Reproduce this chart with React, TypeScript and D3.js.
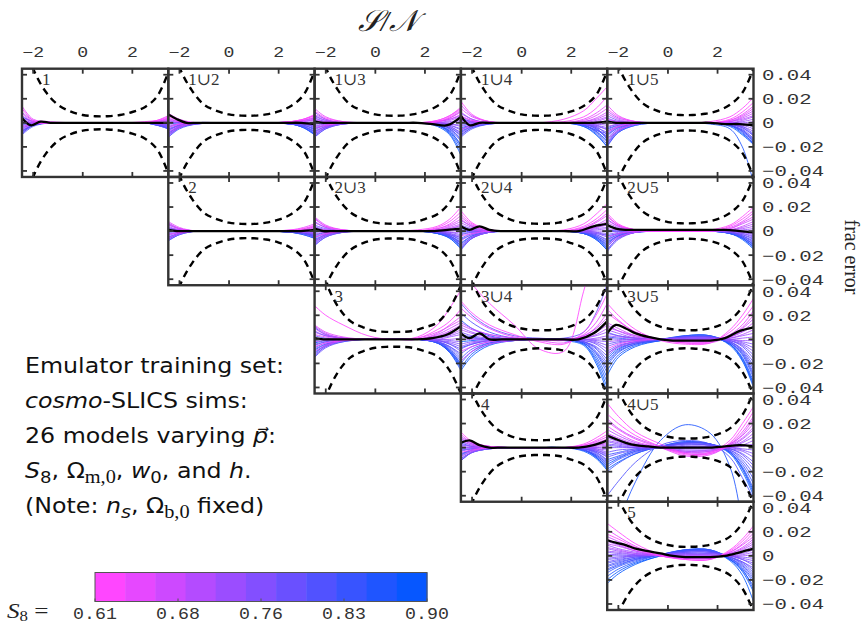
import React from "react";
import * as d3 from "d3";

// ---------- data ----------
// S8 of the 26 cosmo-SLICS training models (line colour)
const MODEL_S8 = [
  0.61, 0.62, 0.64, 0.65, 0.67, 0.68, 0.69, 0.71, 0.72, 0.73, 0.74, 0.75, 0.76,
  0.76, 0.77, 0.78, 0.79, 0.8, 0.81, 0.82, 0.83, 0.84, 0.85, 0.87, 0.88, 0.9,
];

// S/N sample points of the model curves, the mean curve and the noise band
const X_MODEL = [-2.45, -2.0, -1.3, -0.3, 0.7, 1.7, 2.5, 3.0, 3.45];
const X_MEAN = [-2.45, -2.1, -1.7, -1.3, -0.8, -0.3, 0.2, 0.7, 1.2, 1.7, 2.3, 2.9, 3.45];
const X_BAND = [-2.45, -2, -1.5, -1, -0.5, 0, 0.5, 1, 1.5, 2, 2.5, 3, 3.45];

// frac error x 1000, one row per model (S8 order)
const LINES_1 = [
  [12,2,0,0,0,0,0,2,5],[-3,-1,0,0,0,0,1,2,4],[8,1,0,0,0,0,0,1,3],[14,3,1,0,0,0,0,2,6],
  [2,0,0,0,0,0,0,0,2],[-6,-1,0,0,0,0,0,1,3],[9,2,0,0,0,0,0,0,1],[4,1,0,0,0,0,0,1,4],
  [-1,0,0,0,0,0,0,0,-1],[6,1,0,0,0,0,0,-1,-2],[0,0,0,0,0,0,0,0,1],[-9,-2,0,0,0,0,0,0,-1],
  [3,0,0,0,0,0,0,-1,-3],[-4,-1,0,0,0,0,0,1,2],[-7,-2,0,0,0,0,0,-1,-4],[1,0,0,0,0,0,0,-1,-2],
  [-5,-1,0,0,0,0,0,-2,-5],[-10,-3,0,0,0,0,0,0,-1],[-2,0,0,0,0,0,0,-1,-3],[-8,-2,0,0,0,0,0,-2,-4],
  [5,1,0,0,0,0,0,-1,-2],[-6,-2,0,0,0,0,0,-2,-5],[-3,-1,0,0,0,0,0,0,-2],[-9,-2,0,0,0,0,0,-1,-3],
  [-1,0,0,0,0,0,0,-2,-4],[-7,-2,0,0,0,0,0,-1,-5],
];
const LINES_1U2 = [
  [5,2,0,0,0,0,1,3,7],[-4,-1,0,0,0,0,1,3,6],[8,3,0,0,0,0,1,2,5],[2,1,0,0,0,0,1,3,6],
  [-8,-3,0,0,0,0,0,2,4],[4,1,0,0,0,0,0,1,3],[-2,-1,0,0,0,0,1,2,4],[-10,-4,0,0,0,0,0,1,2],
  [1,0,0,0,0,0,0,0,1],[-6,-2,0,0,0,0,0,1,3],[3,1,0,0,0,0,0,-1,-1],[-12,-4,-1,0,0,0,0,0,0],
  [-3,-1,0,0,0,0,0,-1,-3],[-9,-3,0,0,0,0,0,-1,-2],[0,0,0,0,0,0,-1,-2,-5],[-7,-2,0,0,0,0,0,-1,-4],
  [-11,-4,-1,0,0,0,-1,-3,-7],[-5,-2,0,0,0,0,0,-1,-3],[2,0,0,0,0,0,-1,-3,-8],[-8,-3,0,0,0,0,-1,-2,-6],
  [-12,-5,-1,0,0,0,-1,-3,-9],[-4,-1,0,0,0,0,-1,-4,-10],[-10,-4,0,0,0,0,-1,-2,-5],[-6,-2,0,0,0,0,-1,-4,-9],
  [-1,0,0,0,0,0,-1,-3,-7],[-9,-3,0,0,0,0,-1,-4,-10],
];
const LINES_1U3 = [
  [10,4,1,0,0,0,2,6,13],[-4,-2,0,0,0,0,1,5,11],[12,5,1,0,0,0,1,4,9],[3,1,0,0,0,0,2,6,12],
  [-8,-3,0,0,0,0,1,3,7],[7,3,0,0,0,0,1,4,10],[-2,-1,0,0,0,0,0,2,5],[5,2,0,0,0,0,1,3,6],
  [-10,-4,-1,0,0,0,0,1,2],[1,0,0,0,0,0,0,0,1],[-6,-2,0,0,0,0,0,-1,-3],[9,3,0,0,0,0,0,-1,-2],
  [-12,-5,-1,0,0,0,-1,-2,-6],[0,0,0,0,0,0,-1,-3,-9],[-3,-1,0,0,0,0,0,-2,-5],[6,2,0,0,0,0,-1,-4,-11],
  [-9,-4,0,0,0,0,-1,-3,-8],[-5,-2,0,0,0,0,-1,-5,-13],[2,1,0,0,0,0,-2,-6,-15],[-11,-4,-1,0,0,0,-1,-4,-10],
  [-7,-3,0,0,0,0,-2,-7,-18],[4,1,0,0,0,0,-1,-5,-14],[-12,-5,-1,0,0,0,-2,-8,-21],[-1,0,0,0,0,0,-2,-9,-24],
  [-8,-3,0,0,0,0,-3,-10,-27],[-4,-2,0,0,0,0,-2,-7,-19],
];
const LINES_1U4 = [
  [18,7,1,0,0,3,10,20,30],[6,2,0,0,0,1,5,12,22],[-6,-2,0,0,0,0,3,8,15],[12,5,1,0,0,0,2,6,12],
  [2,1,0,0,0,0,1,4,9],[15,6,1,0,0,0,1,3,7],[-3,-1,0,0,0,0,0,2,5],[9,3,0,0,0,0,0,1,4],
  [0,0,0,0,0,0,0,0,2],[-9,-3,0,0,0,0,0,-1,0],[5,2,0,0,0,0,0,-1,-2],[-1,0,0,0,0,0,-1,-2,-4],
  [8,3,0,0,0,0,0,-2,-6],[-5,-2,0,0,0,0,-1,-3,-5],[3,1,0,0,0,0,-1,-4,-8],[-11,-4,-1,0,0,0,-1,-3,-10],
  [1,0,0,0,0,0,-1,-5,-12],[-7,-3,0,0,0,0,-2,-6,-9],[4,1,0,0,0,0,-1,-4,-14],[-12,-5,-1,0,0,0,-2,-7,-16],
  [-2,-1,0,0,0,0,-2,-6,-11],[-8,-3,0,0,0,0,-2,-8,-18],[2,1,0,0,0,0,-1,-5,-13],[-10,-4,-1,0,0,0,-3,-9,-20],
  [-4,-2,0,0,0,0,-2,-7,-15],[-6,-2,0,0,0,0,-3,-10,-20],
];
const LINES_1U5 = [
  [12,5,1,0,0,1,5,12,21],[-8,-3,0,0,0,0,3,9,17],[15,6,1,0,0,0,2,7,14],[3,1,0,0,0,0,2,6,12],
  [-14,-6,-1,0,0,0,1,5,10],[8,3,0,0,0,0,1,4,8],[-3,-1,0,0,0,0,1,3,6],[10,4,1,0,0,0,0,2,5],
  [-18,-7,-1,0,0,0,0,1,3],[1,0,0,0,0,0,0,0,1],[-6,-2,0,0,0,0,0,-1,-1],[6,2,0,0,0,0,0,-1,-3],
  [-11,-4,-1,0,0,0,-1,-2,-5],[-1,0,0,0,0,0,-1,-3,-7],[-16,-6,-1,0,0,0,-1,-3,-9],[4,1,0,0,0,0,-1,-4,-11],
  [-9,-3,0,0,0,0,-1,-5,-13],[-20,-8,-2,0,0,0,-2,-6,-15],[-4,-1,0,0,0,0,-1,-4,-10],[-13,-5,-1,0,0,0,-2,-7,-16],
  [2,1,0,0,0,0,-2,-6,-14],[-7,-3,0,0,0,0,-2,-8,-18],[-17,-7,-1,0,0,0,-2,-7,-16],[-10,-4,-1,0,0,-1,-5,-20,-50],
  [-19,-8,-2,0,0,0,-2,-9,-17],[-5,-2,0,0,0,0,-3,-10,-18],
];
const LINES_2 = [
  [6,2,0,0,0,0,1,2,5],[-3,-1,0,0,0,0,0,2,4],[8,3,0,0,0,0,1,3,6],[1,0,0,0,0,0,0,1,3],
  [-6,-2,0,0,0,0,0,1,2],[4,1,0,0,0,0,0,1,4],[-1,0,0,0,0,0,0,0,1],[7,2,0,0,0,0,0,0,2],
  [-4,-1,0,0,0,0,0,-1,-1],[2,1,0,0,0,0,0,0,0],[-7,-2,0,0,0,0,0,-1,-2],[5,2,0,0,0,0,0,-1,-3],
  [0,0,0,0,0,0,0,0,-1],[-5,-2,0,0,0,0,0,-1,-2],[3,1,0,0,0,0,0,-2,-4],[-8,-3,0,0,0,0,0,-1,-3],
  [-2,-1,0,0,0,0,-1,-2,-5],[6,2,0,0,0,0,0,-1,-2],[-6,-2,0,0,0,0,-1,-2,-4],[1,0,0,0,0,0,0,-2,-5],
  [-3,-1,0,0,0,0,-1,-3,-6],[-8,-3,0,0,0,0,-1,-2,-3],[2,1,0,0,0,0,0,-1,-4],[-5,-2,0,0,0,0,-1,-2,-5],
  [-1,0,0,0,0,0,-1,-3,-6],[-7,-2,0,0,0,0,-1,-2,-4],
];
const LINES_2U3 = [
  [10,4,1,0,0,1,4,10,20],[-5,-2,0,0,0,0,3,8,16],[12,5,1,0,0,0,2,6,13],[2,1,0,0,0,0,2,5,10],
  [-9,-3,0,0,0,0,1,4,8],[7,3,0,0,0,0,1,3,6],[-2,-1,0,0,0,0,1,2,5],[11,4,1,0,0,0,0,2,4],
  [-11,-4,-1,0,0,0,0,1,2],[4,1,0,0,0,0,0,0,1],[-6,-2,0,0,0,0,0,-1,-1],[0,0,0,0,0,0,0,-1,-3],
  [8,3,0,0,0,0,0,-2,-4],[-12,-5,-1,0,0,0,-1,-2,-6],[-3,-1,0,0,0,0,-1,-3,-5],[5,2,0,0,0,0,-1,-3,-8],
  [-8,-3,0,0,0,0,-1,-4,-10],[1,0,0,0,0,0,-1,-3,-7],[-10,-4,-1,0,0,0,-1,-4,-11],[-4,-1,0,0,0,0,-1,-5,-12],
  [3,1,0,0,0,0,-1,-4,-9],[-7,-3,0,0,0,0,-2,-5,-13],[-12,-5,-1,0,0,0,-1,-4,-10],[-1,0,0,0,0,0,-2,-6,-15],
  [-9,-3,0,0,0,0,-2,-6,-14],[-5,-2,0,0,0,0,-2,-5,-12],
];
const LINES_2U4 = [
  [14,6,1,0,0,1,6,14,23],[17,7,1,0,0,0,4,10,18],[-4,-2,0,0,0,0,3,8,15],[10,4,1,0,0,0,2,7,13],
  [3,1,0,0,0,0,2,5,10],[12,5,1,0,0,0,1,4,8],[-8,-3,0,0,0,0,1,3,6],[7,3,0,0,0,0,1,3,5],
  [0,0,0,0,0,0,0,2,3],[9,4,0,0,0,0,0,1,2],[-12,-5,-1,0,0,0,0,0,0],[5,2,0,0,0,0,0,-1,-2],
  [-2,-1,0,0,0,0,0,-1,-4],[-14,-6,-1,0,0,0,-1,-2,-5],[1,0,0,0,0,0,0,-2,-3],[-6,-2,0,0,0,0,-1,-3,-7],
  [-16,-6,-1,0,0,0,-1,-3,-8],[4,1,0,0,0,0,-1,-4,-10],[-10,-4,-1,0,0,0,-1,-4,-9],[-3,-1,0,0,0,0,-1,-5,-12],
  [-13,-5,-1,0,0,0,-2,-5,-11],[2,1,0,0,0,0,-2,-6,-14],[-7,-3,0,0,0,0,-1,-5,-13],[-15,-6,-1,0,0,0,-2,-7,-16],
  [-1,0,0,0,0,0,-2,-6,-15],[-11,-4,-1,0,0,0,-2,-7,-16],
];
const LINES_2U5 = [
  [12,5,1,0,0,1,5,12,20],[15,6,1,0,0,0,4,10,17],[-5,-2,0,0,0,0,3,8,15],[9,4,1,0,0,0,2,7,12],
  [-12,-5,-1,0,0,0,2,6,10],[13,5,1,0,0,0,1,4,8],[2,1,0,0,0,0,1,3,6],[7,3,0,0,0,0,1,2,4],
  [-8,-3,0,0,0,0,0,1,2],[4,2,0,0,0,0,0,0,0],[-15,-6,-1,0,0,0,0,-1,-2],[0,0,0,0,0,0,0,-1,-3],
  [-3,-1,0,0,0,0,0,-2,-5],[10,4,1,0,0,0,-1,-2,-4],[-10,-4,-1,0,0,0,-1,-3,-7],[-1,0,0,0,0,0,-1,-3,-6],
  [-17,-7,-1,0,0,0,-1,-4,-9],[5,2,0,0,0,0,-1,-4,-8],[-6,-2,0,0,0,0,-1,-5,-11],[-13,-5,-1,0,0,0,-1,-4,-10],
  [1,0,0,0,0,0,-2,-5,-12],[-9,-4,-1,0,0,0,-2,-6,-13],[-16,-6,-1,0,0,0,-1,-5,-11],[-4,-2,0,0,0,0,-2,-6,-14],
  [-11,-4,-1,0,0,0,-2,-7,-15],[-7,-3,0,0,0,0,-2,-6,-13],
];
const LINES_3 = [
  [28,20,12,3,0,2,12,26,41],[-6,-3,-1,0,0,1,8,15,25],[12,6,2,0,0,0,5,12,19],[4,2,0,0,0,1,6,11,16],
  [-10,-5,-1,0,0,0,4,9,14],[9,4,1,0,0,0,3,7,12],[-2,-1,0,0,0,0,2,6,10],[11,5,1,0,0,0,2,4,8],
  [-13,-6,-1,0,0,0,1,3,6],[6,3,1,0,0,0,0,2,4],[1,0,0,0,0,0,0,0,1],[-8,-4,-1,0,0,0,0,-1,-2],
  [7,3,1,0,0,0,-1,-2,-4],[-4,-2,0,0,0,0,-1,-3,-6],[-15,-7,-2,0,0,0,-1,-4,-8],[3,1,0,0,0,0,-1,-4,-10],
  [-11,-5,-1,0,0,0,-2,-6,-12],[-1,0,0,0,0,0,-2,-6,-14],[-7,-3,-1,0,0,0,-2,-7,-16],[10,4,1,0,0,0,-2,-8,-18],
  [-14,-6,-2,0,0,0,-3,-9,-20],[-5,-2,0,0,0,0,-3,-10,-22],[-12,-5,-1,0,0,0,-3,-11,-24],[0,0,0,0,0,0,-3,-11,-26],
  [-9,-4,-1,0,0,0,-2,-9,-21],[-3,-1,0,0,0,0,-3,-10,-23],
];
const LINES_3U4 = [
  [60,46,30,12,-8,-10,40,80,120],[32,22,12,4,-2,-4,6,20,38],[-10,-6,-2,0,-1,-3,4,14,30],[26,18,9,2,0,-1,3,10,22],
  [12,8,4,1,0,0,3,9,18],[-18,-10,-4,-1,0,-1,2,7,14],[8,5,2,0,0,0,2,6,12],[14,9,4,1,0,0,1,4,9],
  [-6,-3,-1,0,0,0,1,3,6],[10,6,2,0,0,0,0,1,3],[0,0,0,0,0,0,0,0,1],[6,3,1,0,0,0,0,-1,-2],
  [-4,-2,-1,0,0,0,0,-2,-5],[2,1,0,0,0,0,-1,-3,-8],[-8,-4,-1,0,0,0,-1,-4,-11],[30,20,10,3,1,1,6,22,46],
  [-12,-6,-2,0,0,0,-2,-6,-14],[4,2,0,0,0,0,-2,-7,-17],[-16,-8,-3,-1,0,0,-2,-8,-20],[22,14,6,1,0,0,-2,-10,-22],
  [-20,-10,-3,-1,0,0,-3,-11,-25],[-7,-4,-1,0,0,0,-3,-12,-28],[-24,-12,-4,-1,0,0,-3,-14,-32],[16,9,3,0,0,0,-4,-16,-36],
  [-26,-14,-5,-1,0,0,-4,-18,-40],[-2,-1,0,0,0,-1,-5,-20,-44],
];
const LINES_3U5 = [
  [30,20,8,-1,-4,-3,8,20,34],[22,15,6,0,-3,-2,6,16,28],[-8,-4,-1,0,-2,-2,4,12,24],[25,16,6,0,-3,-3,3,10,20],
  [10,7,3,0,-2,-1,3,9,17],[14,9,3,0,-1,-1,2,7,14],[-12,-6,-2,0,-1,0,2,6,11],[12,7,2,0,0,0,1,4,8],
  [3,2,1,0,0,0,1,3,5],[8,5,1,0,0,0,0,1,2],[-2,-1,0,0,1,1,0,-1,-1],[5,3,1,0,0,1,0,-2,-4],
  [-6,-3,-1,0,1,1,0,-3,-7],[1,0,0,0,1,1,-1,-4,-10],[-10,-5,-2,0,1,1,-1,-5,-13],[-4,-2,-1,0,2,2,-1,-6,-16],
  [-14,-7,-3,0,2,2,-2,-8,-19],[6,3,1,0,1,1,-2,-9,-22],[-18,-9,-3,0,2,2,-2,-10,-25],[-12,-6,-2,0,2,2,-3,-11,-28],
  [-22,-11,-4,-1,2,2,-3,-12,-30],[2,1,0,0,3,3,-3,-13,-32],[-26,-13,-5,-1,2,2,-4,-15,-35],[-20,-10,-4,0,3,3,-4,-16,-37],
  [-30,-15,-6,-1,2,2,-4,-17,-38],[-16,-8,-3,-1,3,3,-5,-18,-40],
];
const LINES_4 = [
  [13,5,1,0,0,0,3,8,14],[-4,-2,0,0,0,0,2,6,11],[8,3,1,0,0,0,2,5,9],[11,4,1,0,0,0,1,4,7],
  [-8,-3,0,0,0,0,1,3,6],[6,2,0,0,0,0,1,2,4],[1,0,0,0,0,0,0,2,3],[9,4,1,0,0,0,0,1,2],
  [-10,-4,-1,0,0,0,0,0,1],[3,1,0,0,0,0,0,0,-1],[-2,-1,0,0,0,0,0,-1,-2],[5,2,0,0,0,0,0,-1,-4],
  [-6,-2,0,0,0,0,-1,-2,-5],[0,0,0,0,0,0,0,-2,-6],[-11,-4,-1,0,0,0,-1,-3,-8],[2,1,0,0,0,0,-1,-3,-7],
  [-3,-1,0,0,0,0,-1,-4,-10],[7,3,0,0,0,0,-1,-4,-11],[-7,-3,0,0,0,0,-1,-5,-12],[-1,0,0,0,0,0,-2,-6,-14],
  [-9,-4,-1,0,0,0,-2,-6,-13],[4,1,0,0,0,0,-2,-7,-16],[-5,-2,0,0,0,0,-2,-8,-17],[-11,-4,-1,0,0,0,-2,-7,-15],
  [-2,-1,0,0,0,0,-3,-9,-19],[-6,-2,0,0,0,0,-2,-8,-18],
];
const LINES_4U5 = [
  [37,26,13,3,-5,-4,6,20,34],[28,20,10,1,-6,-5,4,16,30],[22,15,7,0,-7,-6,3,13,26],[18,12,5,0,-5,-5,2,11,24],
  [24,16,8,1,-4,-4,3,10,20],[12,8,3,0,-4,-3,2,8,17],[15,10,4,0,-3,-3,1,7,15],[9,6,2,0,-3,-2,1,5,12],
  [11,7,2,0,-2,-2,0,4,9],[6,4,1,0,-1,-1,0,2,6],[8,5,1,0,0,0,0,1,3],[3,2,0,0,0,0,0,-1,-2],
  [5,3,1,0,1,1,0,-2,-5],[0,0,0,0,1,1,-1,-3,-8],[-4,-2,-1,0,2,2,-1,-5,-12],[2,1,0,1,3,2,-1,-6,-15],
  [-8,-5,-2,0,3,2,-2,-8,-18],[-12,-8,-3,0,4,3,-2,-10,-22],[-40,-28,-12,2,6,3,-8,-25,-42],[-16,-10,-4,1,4,3,-3,-12,-26],
  [-6,-4,-1,1,3,2,-3,-14,-30],[-20,-13,-5,1,5,3,-4,-16,-34],[-85,-62,-28,6,19,12,-16,-62,-110],[-10,-7,-2,1,4,3,-4,-18,-38],
  [-18,-12,-5,1,5,3,-5,-20,-40],[-14,-9,-3,1,4,3,-4,-17,-36],
];
const LINES_5 = [
  [27,20,10,1,-3,-3,5,14,25],[18,14,7,0,-3,-3,4,12,22],[22,16,8,0,-2,-2,3,10,19],[14,10,5,0,-2,-2,3,9,16],
  [16,12,6,0,-2,-2,2,7,14],[10,8,4,0,-1,-1,2,6,12],[12,9,4,0,-1,-1,1,5,10],[7,5,2,0,0,0,1,4,8],
  [9,6,3,0,0,0,1,2,5],[4,3,1,0,0,0,0,1,3],[6,4,2,1,1,1,0,0,1],[1,1,0,1,1,1,0,-1,-2],
  [3,2,1,1,2,2,0,-2,-4],[-2,-1,0,1,2,2,0,-3,-6],[0,0,0,1,3,3,0,-3,-8],[-5,-3,-1,1,3,3,-1,-5,-10],
  [-3,-2,0,1,3,3,-1,-5,-12],[-8,-5,-2,1,4,4,-1,-6,-14],[-6,-4,-1,1,4,4,-1,-7,-16],[-11,-7,-3,1,4,4,-2,-8,-18],
  [-9,-6,-2,1,5,5,-2,-9,-20],[-14,-9,-4,1,5,5,-2,-10,-22],[-17,-11,-5,1,5,4,-3,-12,-25],[-12,-8,-3,1,4,4,-3,-11,-28],
  [-20,-13,-6,0,5,5,-3,-13,-30],[-23,-15,-7,0,4,4,-4,-16,-38],
];

// mean frac error x 1000 at X_MEAN
const MEAN_1 = [4,-2,1,0,0,0,0,0,0,0,0,0,0];
const MEAN_1U2 = [7,3,0,0,0,0,0,0,0,0,0,0,-1];
const MEAN_1U3 = [1,0,0,0,0,0,0,0,0,0,-1,-2,5];
const MEAN_1U4 = [6,-2,0,0,0,0,0,0,0,0,0,0,1];
const MEAN_1U5 = [1,0,0,0,0,0,0,0,0,0,-1,-1,-2];
const MEAN_2 = [1,0,0,0,0,0,0,0,0,0,0,0,1];
const MEAN_2U3 = [2,0,0,0,0,0,0,0,0,0,0,1,2];
const MEAN_2U4 = [4,1,4,1,0,0,0,0,0,0,0,4,6];
const MEAN_2U5 = [5,2,1,1,1,1,1,1,1,1,1,0,-1];
const MEAN_3 = [1,0,0,0,0,0,0,0,0,0,1,4,11];
const MEAN_3U4 = [5,1,5,0,0,0,0,0,0,0,0,5,15];
const MEAN_3U5 = [5,12,9,5,2,0,-1,-1,-1,-1,1,7,10];
const MEAN_4 = [4,6,2,0,0,0,0,0,0,0,0,2,6];
const MEAN_4U5 = [10,7,4,2,1,0,0,0,0,0,1,2,1];
const MEAN_5 = [13,11,9,6,4,2,0,-1,-1,-1,0,3,6];

// upper edge of the noise band x 1000 at X_BAND (the lower edge mirrors it)
const BAND_1 = [75,45,26,15,9.5,6.5,5.5,5.5,6.5,9,13,22,42];
const BAND_1U2 = [76,46,27,15,10,7,6,6,7,9.5,14,23,43];
const BAND_1U3 = [76,46,27,15,10,7,6,6,7,9.5,14,23,43];
const BAND_1U4 = [76,46,27,15,10,7,6,6,7,9.5,14,23,43];
const BAND_1U5 = [78,47,28,16,10.5,7.5,6.5,6.5,7.5,10,15,25,45];
const BAND_2 = [76,46,27,15,10,7,6,6,7,9.5,14,23,43];
const BAND_2U3 = [77,46,27,15.5,10,7,6.2,6.2,7,10,14,24,44];
const BAND_2U4 = [77,46,27,15.5,10,7,6.2,6.2,7,10,14,24,44];
const BAND_2U5 = [78,47,28,16,10.5,7.5,6.5,6.5,7.5,10,15,25,45];
const BAND_3 = [80,48,27,15,10,7,6.2,6.2,7,10,14,26,45];
const BAND_3U4 = [78,48,29,18,12,9,7.6,7.6,8.5,11,16,27,46];
const BAND_3U5 = [78,48,29,18,12,9,7.6,7.6,8.5,11,16,27,46];
const BAND_4 = [77,46,27,15.5,10,7,6.2,6.2,7,10,14,24,44];
const BAND_4U5 = [78,48,29,18,12,9,7.6,7.6,8.5,11,16,27,46];
const BAND_5 = [78,48,29,18,12,9,7.6,7.6,8.5,11,16,27,46];

const X_TICKS = [-2, 0, 2];
const Y_TICKS = [-0.04, -0.02, 0, 0.02, 0.04];
const Y_TICK_LABELS = ["\u22120.04", "\u22120.02", "0", "0.02", "0.04"];
const X_TICK_LABELS = ["\u22122", "0", "2"];

const CBAR_TICKS = [0.61, 0.6825, 0.755, 0.8275, 0.9];
const CBAR_LABELS = ["0.61", "0.68", "0.76", "0.83", "0.90"];

const PANELS = [
  { label: "1", lines: LINES_1, mean: MEAN_1, band: BAND_1 },
  { label: "1\u222A2", lines: LINES_1U2, mean: MEAN_1U2, band: BAND_1U2 },
  { label: "1\u222A3", lines: LINES_1U3, mean: MEAN_1U3, band: BAND_1U3 },
  { label: "1\u222A4", lines: LINES_1U4, mean: MEAN_1U4, band: BAND_1U4 },
  { label: "1\u222A5", lines: LINES_1U5, mean: MEAN_1U5, band: BAND_1U5 },
  { label: "2", lines: LINES_2, mean: MEAN_2, band: BAND_2 },
  { label: "2\u222A3", lines: LINES_2U3, mean: MEAN_2U3, band: BAND_2U3 },
  { label: "2\u222A4", lines: LINES_2U4, mean: MEAN_2U4, band: BAND_2U4 },
  { label: "2\u222A5", lines: LINES_2U5, mean: MEAN_2U5, band: BAND_2U5 },
  { label: "3", lines: LINES_3, mean: MEAN_3, band: BAND_3 },
  { label: "3\u222A4", lines: LINES_3U4, mean: MEAN_3U4, band: BAND_3U4 },
  { label: "3\u222A5", lines: LINES_3U5, mean: MEAN_3U5, band: BAND_3U5 },
  { label: "4", lines: LINES_4, mean: MEAN_4, band: BAND_4 },
  { label: "4\u222A5", lines: LINES_4U5, mean: MEAN_4U5, band: BAND_4U5 },
  { label: "5", lines: LINES_5, mean: MEAN_5, band: BAND_5 },
];

// ---------- layout ----------
const W = 865;
const H = 624;
const LEFT = 22;
const TOP = 68.7;
const COL_W = 146.3;
const ROW_H = 108.26;
const FRAME = "#333333";
const MONO = "'Liberation Mono', 'DejaVu Sans Mono', monospace";
const SERIF = "'Liberation Serif', 'DejaVu Serif', serif";
const SANS = "'DejaVu Sans', 'Liberation Sans', sans-serif";

const CBAR = { x0: 95, x1: 427, y0: 572.5, y1: 601.5, steps: 11 };

const palette = d3.quantize(d3.interpolateRgb("#ff46ff", "#0657ff"), CBAR.steps);
const colour = d3.scaleQuantize<string>().domain([0.61, 0.9]).range(palette);

const x = d3.scaleLinear().domain([-2.45, 3.45]).range([0, COL_W]);
const y = d3.scaleLinear().domain([-0.045, 0.045]).range([ROW_H, 0]);

type Pt = [number, number];
const curve = d3
  .line<Pt>()
  .x((d) => x(d[0]))
  .y((d) => y(d[1] / 1000))
  .curve(d3.curveCatmullRom.alpha(0.5));

function gridCell(label: string) {
  const parts = label.split("\u222A").map(Number);
  return { row: parts[0] - 1, col: (parts[1] ?? parts[0]) - 1 };
}

function Panel({ p, idx }: { p: (typeof PANELS)[number]; idx: number }) {
  const { row, col } = gridCell(p.label);
  const tx = LEFT + col * COL_W;
  const ty = TOP + row * ROW_H;
  const clipId = `clip-${idx}`;
  const order = d3.range(p.lines.length).reverse();
  const upper: Pt[] = X_BAND.map((xv, i) => [xv, p.band[i]]);
  const lower: Pt[] = X_BAND.map((xv, i) => [xv, -p.band[i]]);
  const mean: Pt[] = X_MEAN.map((xv, i) => [xv, p.mean[i]]);
  const tick = 5;
  return (
    <g transform={`translate(${tx},${ty})`}>
      <defs>
        <clipPath id={clipId}>
          <rect x={0} y={0} width={COL_W} height={ROW_H} />
        </clipPath>
      </defs>
      <g clipPath={`url(#${clipId})`}>
        {order.map((m) => (
          <path
            key={m}
            d={curve(X_MODEL.map((xv, i) => [xv, p.lines[m][i]] as Pt)) ?? ""}
            fill="none"
            stroke={colour(MODEL_S8[m])}
            strokeWidth={1}
            strokeOpacity={0.85}
          />
        ))}
        <path d={curve(mean) ?? ""} fill="none" stroke="#000" strokeWidth={2.3} />
        {[upper, lower].map((b, i) => (
          <path
            key={i}
            d={curve(b) ?? ""}
            fill="none"
            stroke="#000"
            strokeWidth={2.4}
            strokeDasharray="7 5"
          />
        ))}
      </g>
      <rect x={0} y={0} width={COL_W} height={ROW_H} fill="none" stroke={FRAME} strokeWidth={2.4} />
      {X_TICKS.map((t) => (
        <g key={`xt${t}`} stroke={FRAME} strokeWidth={1.8}>
          <line x1={x(t)} x2={x(t)} y1={0} y2={tick} />
          <line x1={x(t)} x2={x(t)} y1={ROW_H} y2={ROW_H - tick} />
        </g>
      ))}
      {Y_TICKS.map((t) => (
        <g key={`yt${t}`} stroke={FRAME} strokeWidth={1.8}>
          <line x1={0} x2={tick} y1={y(t)} y2={y(t)} />
          <line x1={COL_W} x2={COL_W - tick} y1={y(t)} y2={y(t)} />
        </g>
      ))}
      <text x={20} y={16.5} fontFamily={SERIF} fontSize={17} fill="#333">
        {p.label}
      </text>
    </g>
  );
}

export default function App() {
  const cbX = d3.scaleLinear().domain([0.61, 0.9]).range([CBAR.x0, CBAR.x1]);
  const segW = (CBAR.x1 - CBAR.x0) / CBAR.steps;
  const lineGap = 35;
  const textTop = 373;
  return (
    <svg
      width={W}
      height={H}
      viewBox={`0 0 ${W} ${H}`}
      style={{ position: "absolute", left: 0, top: 0, background: "#fff" }}
    >
      <rect width={W} height={H} fill="#fff" />

      {/* title */}
      <text x={388} y={31} textAnchor="middle" fontFamily={SERIF} fontStyle="italic" fontSize={30} fill="#222">
        {"\u{1D4AE}/\u{1D4A9}"}
      </text>

      {/* top S/N tick labels, one set per column */}
      {d3.range(5).map((c) =>
        X_TICKS.map((t, i) => (
          <g key={`top${c}-${i}`} transform={`translate(${LEFT + c * COL_W + x(t)},57) scale(1.3,1)`}>
            <text textAnchor="middle" fontFamily={MONO} fontSize={14} fill="#333">
              {X_TICK_LABELS[i]}
            </text>
          </g>
        ))
      )}

      {PANELS.map((p, i) => (
        <Panel key={p.label} p={p} idx={i} />
      ))}

      {/* right frac-error tick labels, one set per row */}
      {d3.range(5).map((r) =>
        Y_TICKS.map((t, i) => (
          <g key={`rt${r}-${i}`} transform={`translate(762,${TOP + r * ROW_H + y(t)}) scale(1.38,1)`}>
            <text dy="0.36em" fontFamily={MONO} fontSize={15} fill="#333">
              {Y_TICK_LABELS[i]}
            </text>
          </g>
        ))
      )}

      <text
        transform="translate(845,257) rotate(90)"
        textAnchor="middle"
        fontFamily={SERIF}
        fontSize={20}
        fill="#222"
      >
        frac error
      </text>

      {/* description */}
      <g transform={`translate(25,0) scale(1.13,1)`} fontFamily={SANS} fontSize={21} fill="#111">
        <text x={0} y={textTop}>Emulator training set:</text>
        <text x={0} y={textTop + lineGap}>
          <tspan fontStyle="italic">cosmo</tspan>-SLICS sims:
        </text>
        <text x={0} y={textTop + 2 * lineGap}>
          26 models varying <tspan fontStyle="italic">{"p\u20D7"}</tspan>:
        </text>
        <text x={0} y={textTop + 3 * lineGap}>
          <tspan fontStyle="italic">S</tspan>
          <tspan dy={5} fontSize={16}>8</tspan>
          <tspan dy={-5}>, Ω</tspan>
          <tspan dy={5} fontSize={18} fontFamily={SERIF}>m,0</tspan>
          <tspan dy={-5}>, </tspan>
          <tspan fontStyle="italic">w</tspan>
          <tspan dy={5} fontSize={16}>0</tspan>
          <tspan dy={-5}>, and </tspan>
          <tspan fontStyle="italic">h</tspan>.
        </text>
        <text x={0} y={textTop + 4 * lineGap}>
          (Note: <tspan fontStyle="italic">n</tspan>
          <tspan dy={5} fontSize={17} fontStyle="italic">s</tspan>
          <tspan dy={-5}>, Ω</tspan>
          <tspan dy={5} fontSize={18} fontFamily={SERIF}>b,0</tspan>
          <tspan dy={-5}> fixed)</tspan>
        </text>
      </g>

      {/* S8 colour bar */}
      {palette.map((c, i) => (
        <rect key={c + i} x={CBAR.x0 + i * segW} y={CBAR.y0} width={segW + 0.5} height={CBAR.y1 - CBAR.y0} fill={c} />
      ))}
      <rect
        x={CBAR.x0}
        y={CBAR.y0}
        width={CBAR.x1 - CBAR.x0}
        height={CBAR.y1 - CBAR.y0}
        fill="none"
        stroke="#555"
        strokeWidth={1}
      />
      {CBAR_TICKS.map((t, i) => (
        <g key={`cb${i}`}>
          <line x1={cbX(t)} x2={cbX(t)} y1={CBAR.y1} y2={CBAR.y1 - 3} stroke="#555" strokeWidth={1} />
          <g transform={`translate(${cbX(t)},619) scale(1.14,1)`}>
            <text textAnchor="middle" fontFamily={MONO} fontSize={16} fill="#333">
              {CBAR_LABELS[i]}
            </text>
          </g>
        </g>
      ))}
      <g transform="translate(7,618) scale(1.2,1)">
        <text x={0} y={0} fontFamily={SERIF} fontSize={21} fill="#222">
          <tspan fontStyle="italic">S</tspan>
          <tspan dy={3} fontSize={14}>8</tspan>
          <tspan dy={-3}> =</tspan>
        </text>
      </g>
    </svg>
  );
}
